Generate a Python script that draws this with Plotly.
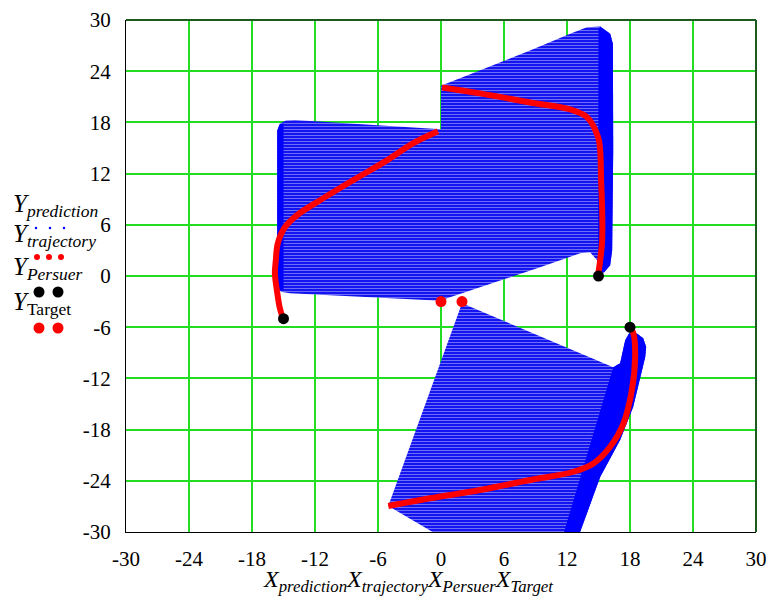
import plotly.graph_objects as go

# ---- data -----------------------------------------------------------
# pursuer trajectories
traj1_x = [-15.06, -15.35, -15.63, -15.82, -15.73, -15.54, -14.87, -13.73, -11.53, -8.39, -5.15, -2.67, -0.29]
traj1_y = [-4.94, -3.77, -1.67, 0.32, 1.84, 3.83, 5.71, 7.11, 8.87, 11.21, 13.55, 15.54, 16.95]
traj2_x = [14.97, 15.16, 15.35, 15.35, 15.25, 15.16, 14.97, 13.92, 12.30, 8.48, 3.72, 0.1]
traj2_y = [0.21, 1.84, 4.19, 7.7, 11.21, 14.72, 16.24, 18.59, 19.52, 20.34, 21.4, 22.1]
traj3_x = [17.95, 18.33, 18.49, 18.18, 17.38, 16.11, 14.52, 12.61, 8.48, 3.72, -1.05, -5.02]
traj3_y = [-5.85, -6.74, -9.48, -13.37, -17.27, -20.01, -21.96, -22.94, -23.91, -25.08, -26.05, -26.95]

# start positions of pursuers and targets
pursuer_x = [-15, 15, 18]
pursuer_y = [-5, 0, -6]
target_x = [0, 2]
target_y = [-3, -3]

# envelopes swept by the predicted paths
pred_a_x = [-15.6, -15.35, -14.78, -13.92, 0.0, 0.0, -14.39, -15.25, -15.6]
pred_a_y = [17.06, 17.88, 18.23, 18.29, 17.2, -2.9, -2.02, -1.84, -1.2]
pred_b_x = [0.0, 3.72, 8.48, 12.30, 13.89, 15.16, 16.11, 16.37, 16.4, 16.3, 16.11, 15.54, 14.97, 14.87, 14.2, 13.25, 9.44, 0.0]
pred_b_y = [22.3, 24.09, 26.43, 28.38, 29.16, 29.24, 28.38, 27.21, 14.72, 3.02, 1.26, 0.44, 0.33, 1.84, 2.78, 2.66, 1.03, -2.84]
pred_c_x = [2.0, 16.4, 17.06, 17.54, 17.92, 18.66, 19.26, 19.54, 19.45, 18.3, 17.06, 15.16, 13.1, -0.1, -5.02]
pred_c_y = [-3.2, -10.69, -10.22, -7.53, -6.71, -6.74, -7.29, -8.31, -9.48, -15.36, -19.23, -23.56, -30.5, -30.5, -26.95]

# densely overlapping parts of the envelopes
dense_a_x = [-15.6, -15.4, -15.0, -15.0, -15.3, -15.6]
dense_a_y = [17.0, 17.7, 17.9, -1.6, -1.7, -1.2]
dense_b_x = [15.0, 15.16, 16.11, 16.37, 16.4, 16.3, 16.11, 15.54, 14.97]
dense_b_y = [28.9, 29.24, 28.38, 27.21, 14.72, 3.02, 1.26, 0.44, 0.33]
dense_c_x = [16.4, 17.06, 17.54, 17.92, 18.66, 19.26, 19.54, 19.45, 18.3, 17.06, 15.16, 13.1, 11.6]
dense_c_y = [-10.69, -10.22, -7.53, -6.71, -6.74, -7.29, -8.31, -9.48, -15.36, -19.23, -23.56, -30.5, -30.5]

ticks = [-30, -24, -18, -12, -6, 0, 6, 12, 18, 24, 30]

# ---- layout geometry (pixels) --------------------------------------
W, H = 768, 598
ML, MR, MT, MB = 126, 12, 20, 66
PW, PH = W - ML - MR, H - MT - MB


def px(x):
    return (x - ML) / PW


def py(y):
    return (H - MB - y) / PH


SERIF = "Liberation Serif"
BLUE = "#0000ff"
RED = "#ff0000"

fig = go.Figure()

# hatched envelopes: blue with thin light streaks
for xs, ys in [(pred_a_x, pred_a_y), (pred_b_x, pred_b_y), (pred_c_x, pred_c_y)]:
    fig.add_trace(go.Scatter(
        x=xs, y=ys, mode="lines", fill="toself", line=dict(width=0, color=BLUE),
        fillpattern=dict(shape="-", fgcolor="rgba(255,255,255,0.85)", bgcolor="#1414f0",
                         size=3, solidity=0.3),
        hoverinfo="skip", showlegend=False))

for xs, ys in [(dense_a_x, dense_a_y), (dense_b_x, dense_b_y), (dense_c_x, dense_c_y)]:
    fig.add_trace(go.Scatter(
        x=xs, y=ys, mode="lines", fill="toself", line=dict(width=0, color=BLUE),
        fillcolor="#0000ff", hoverinfo="skip", showlegend=False))

for xs, ys in [(traj1_x, traj1_y), (traj2_x, traj2_y), (traj3_x, traj3_y)]:
    fig.add_trace(go.Scatter(
        x=xs, y=ys, mode="lines", line=dict(color=RED, width=6, shape="spline"),
        showlegend=False))

fig.add_trace(go.Scatter(x=pursuer_x, y=pursuer_y, mode="markers",
                         marker=dict(color="black", size=11), showlegend=False))
fig.add_trace(go.Scatter(x=target_x, y=target_y, mode="markers",
                         marker=dict(color=RED, size=11), showlegend=False))

axis_common = dict(
    range=[-30, 30], tickvals=ticks, ticktext=[str(t) for t in ticks],
    showgrid=True, gridcolor="#22dd22", gridwidth=1.5, zeroline=False,
    showline=True, linecolor="black", linewidth=1, automargin=False,
    tickfont=dict(family=SERIF, size=21, color="black"),
    ticks="outside", tickcolor="rgba(0,0,0,0)",
)
fig.update_xaxes(**axis_common, ticklen=8)
fig.update_yaxes(**axis_common, ticklen=10)

# frame: top and right edges
fig.add_shape(type="line", xref="paper", yref="paper", x0=0, x1=1, y0=1, y1=1,
              line=dict(color="#1e5a1e", width=2))
fig.add_shape(type="line", xref="paper", yref="paper", x0=1, x1=1, y0=0, y1=1,
              line=dict(color="#1e5a1e", width=2))

# legend on the left
legend_items = [
    ("<i>Y</i><sub><i>prediction</i></sub>", 205),
    ("<i>Y</i><sub><i>trajectory</i></sub>", 235),
    ("<i>Y</i><sub><i>Persuer</i></sub>", 268),
    ("<i>Y</i><sub>Target</sub>", 303),
]
for text, yc in legend_items:
    fig.add_annotation(text=text, xref="paper", yref="paper", x=px(11), y=py(yc),
                       xanchor="left", yanchor="middle", showarrow=False,
                       font=dict(family=SERIF, size=25, color="black"))


def dot(xc, yc, d, color):
    fig.add_shape(type="circle", xref="paper", yref="paper",
                  xsizemode="pixel", ysizemode="pixel",
                  xanchor=px(xc), yanchor=py(yc),
                  x0=-d / 2, x1=d / 2, y0=-d / 2, y1=d / 2,
                  fillcolor=color, line=dict(width=0))


for xc in (36, 50, 64):
    dot(xc, 228, 2.5, BLUE)
for xc in (37, 49, 61):
    dot(xc, 257, 6, RED)
for xc in (39, 58):
    dot(xc, 292, 11, "black")
for xc in (39, 58):
    dot(xc, 328, 11, RED)

# x-axis title
fig.add_annotation(
    text="<i>X</i><sub><i>prediction</i></sub><i>X</i><sub><i>trajectory</i></sub>"
         "<i>X</i><sub><i>Persuer</i></sub><i>X</i><sub><i>Target</i></sub>",
    xref="paper", yref="paper", x=px(261), y=py(581), xanchor="left", yanchor="middle",
    showarrow=False, font=dict(family=SERIF, size=24, color="black"))

fig.update_layout(
    width=W, height=H, autosize=False,
    margin=dict(l=ML, r=MR, t=MT, b=MB),
    paper_bgcolor="white", plot_bgcolor="white",
    showlegend=False,
)

fig.write_html("out.html")
